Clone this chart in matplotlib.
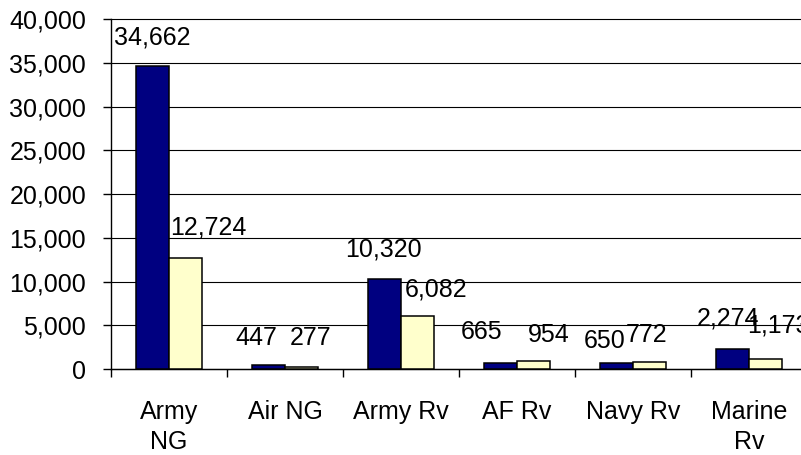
import numpy as np
import matplotlib
matplotlib.use("Agg")
import matplotlib.pyplot as plt
from matplotlib.ticker import FuncFormatter

# data
categories = ["Army\nNG", "Air NG", "Army Rv", "AF Rv", "Navy Rv", "Marine\nRv"]
series_a = [34662, 447, 10320, 665, 650, 2274]
series_b = [12724, 277, 6082, 954, 772, 1173]

# label nudges (pixels) to mimic the original label placement
a_dx = [0, -12, -1, -19, -12, -4]
a_dy = [21, 20, 22, 24, 15, 24]
b_dx = [23, 9, 18, 15, -3, 13]
b_dy = [23, 22, 19, 19, 20, 26]

plt.rcParams['font.family'] = ['Liberation Sans', 'DejaVu Sans']
fs = 18

fig = plt.figure(figsize=(8.01, 4.55), dpi=100)
ax = fig.add_axes([0.1386, 0.189, 0.8689, 0.7686])

x = np.arange(len(categories))
w = 1 / 3.5
bars_a = ax.bar(x - w / 2, series_a, w, color='#000080', edgecolor='black', linewidth=1.1, zorder=3)
bars_b = ax.bar(x + w / 2, series_b, w, color='#FFFFCC', edgecolor='black', linewidth=1.1, zorder=3)

for bars, vals, dxs, dys in [(bars_a, series_a, a_dx, a_dy), (bars_b, series_b, b_dx, b_dy)]:
    for b, v, dx, dy in zip(bars, vals, dxs, dys):
        ax.annotate(f"{v:,}", (b.get_x() + b.get_width() / 2, v),
                    xytext=(dx, dy), textcoords='offset pixels',
                    ha='center', va='baseline', fontsize=fs, zorder=4,
                    annotation_clip=False)

ax.set_xlim(-0.5, len(categories) - 0.5)
ax.set_ylim(0, 40000)
ax.set_yticks(np.arange(0, 40001, 5000))
ax.yaxis.set_major_formatter(FuncFormatter(lambda v, p: f"{int(v):,}"))
ax.grid(axis='y', color='black', linewidth=0.8, zorder=0)
ax.yaxis.grid(True, clip_on=False)

ax.set_xticks(x)
ax.set_xticklabels(categories, linespacing=1.35)
ax.set_xticks(np.arange(-0.5, len(categories), 1), minor=True)
ax.tick_params(axis='x', which='major', length=0, pad=22, labelsize=fs)
ax.tick_params(axis='x', which='minor', length=6, width=1, direction='out')
ax.tick_params(axis='y', length=6, width=1, direction='out', pad=12, labelsize=fs)

for s in ['top', 'right']:
    ax.spines[s].set_visible(False)
ax.spines['left'].set_linewidth(1)
ax.spines['bottom'].set_linewidth(1)

fig.savefig("out.png", dpi=100)
